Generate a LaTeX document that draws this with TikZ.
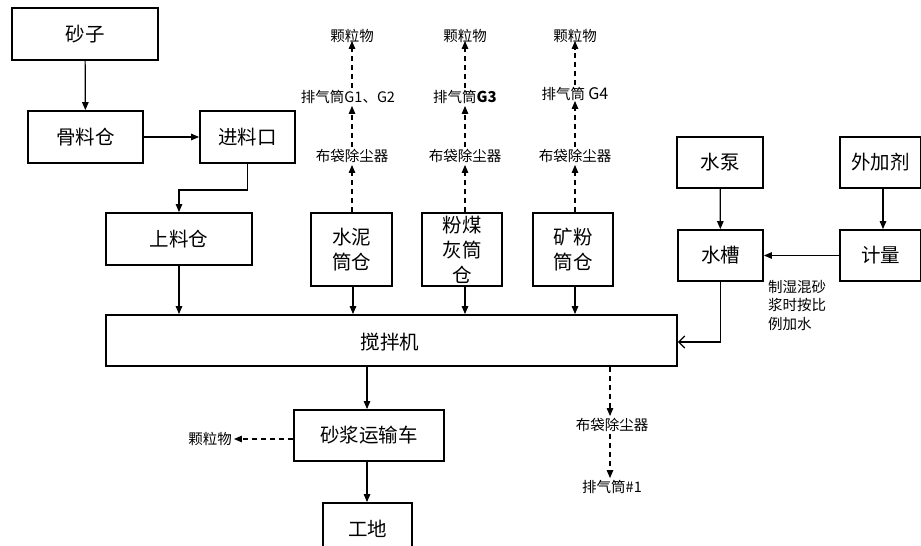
\documentclass[tikz,border=0pt]{standalone}
\usepackage{fontspec}
\setmainfont{Liberation Serif}
\newfontfamily\cjk{Noto Sans CJK SC}
\usetikzlibrary{arrows.meta,calc}
\begin{document}
\begin{tikzpicture}[x=1pt,y=-1pt,
  box/.style={draw,line width=1.8pt,rectangle,inner sep=0pt,font=\cjk\fontsize{19.5}{25}\selectfont,align=center},
  note/.style={inner sep=2pt,font=\cjk\fontsize{14.5}{18.5}\selectfont},
  arr/.style={line width=1.2pt,-{Triangle[length=8pt,width=6.5pt]}},
  darr/.style={line width=1.2pt,dash pattern=on 5pt off 4pt,-{Triangle[length=8pt,width=6.5pt]}},
  oarr/.style={line width=1.2pt,-{Straight Barb[length=6pt,width=12pt,line width=1.2pt]}}]
\useasboundingbox (0,0) rectangle (921,546);
\clip (0,0) rectangle (921,546);
\fill[white] (0,0) rectangle (921,546);
% boxes
\node[box,minimum width=146pt,minimum height=52pt] (shazi) at (85,34) {砂子};
\node[box,minimum width=115pt,minimum height=52pt] (guliao) at (85.5,137) {骨料仓};
\node[box,minimum width=95pt,minimum height=52pt] (jinliao) at (247.5,137) {进料口};
\node[box,minimum width=146pt,minimum height=52pt] (shangliao) at (179,239) {上料仓};
\node[box,minimum width=81pt,minimum height=73pt] (shuini) at (351.5,249.5) {水泥\\筒仓};
\node[box,minimum width=80pt,minimum height=73pt] (fenmei) at (462,249.5) {粉煤\\灰筒\\仓};
\node[box,minimum width=80pt,minimum height=73pt] (kuangfen) at (573,249.5) {矿粉\\筒仓};
\node[box,minimum width=571pt,minimum height=51pt] (jiaoban) at (391.5,340.5) {};
\node[font=\cjk\fontsize{19.5}{25}\selectfont] (jbtext) at (390,342) {搅拌机};
\node[box,minimum width=86pt,minimum height=51pt] (shuibeng) at (720,162.5) {水泵};
\node[box,minimum width=81pt,minimum height=51pt] (waijia) at (880.5,162.5) {外加剂};
\node[box,minimum width=85pt,minimum height=51pt] (shuicao) at (720.5,255.5) {水槽};
\node[box,minimum width=81pt,minimum height=51pt] (jiliang) at (880.5,255.5) {计量};
\node[box,minimum width=150pt,minimum height=51pt] (shajiang) at (369,435.5) {砂浆运输车};
\node[box,minimum width=89pt,minimum height=51pt] (gongdi) at (367.5,528.5) {工地};
% notes
\node[note] (bd1) at (352,156) {布袋除尘器};
\node[note] (pq1) at (348,97) {排气筒G1、G2};
\node[note] (kl1) at (352,36) {颗粒物};
\node[note] (bd2) at (465,156) {布袋除尘器};
\node[note] (pq2) at (465,97) {排气筒\textbf{\fontsize{15}{15}\selectfont G3}};
\node[note] (kl2) at (465,36) {颗粒物};
\node[note] (bd3) at (575,156) {布袋除尘器};
\node[note] (pq3) at (575,94) {排气筒 {\fontsize{16}{16}\selectfont G4}};
\node[note] (kl3) at (575,36) {颗粒物};
\node[note] (bd4) at (612,425) {布袋除尘器};
\node[note] (pq4) at (612,487) {排气筒\#1};
\node[note] (kl4) at (210,439) {颗粒物};
\node[note,align=left,anchor=north west] (zs) at (766,278) {制湿混砂\\浆时按比\\例加水};
% solid connectors
\draw[arr] (shazi) -- (guliao);
\draw[arr] (guliao) -- (jinliao);
\draw[arr] (jinliao.south) -- ++(0,26) -| (shangliao.north);
\draw[arr] (shangliao.south) -- (shangliao.south |- jiaoban.north);
\draw[arr] ([xshift=1.5pt]shuini.south) -- ([xshift=1.5pt]shuini.south |- jiaoban.north);
\draw[arr] ([xshift=3pt]fenmei.south) -- ([xshift=3pt]fenmei.south |- jiaoban.north);
\draw[arr] ([xshift=2pt]kuangfen.south) -- ([xshift=2pt]kuangfen.south |- jiaoban.north);
\draw[arr] (shuibeng) -- (shuicao);
\draw[arr] ([xshift=2.5pt]waijia.south) -- ([xshift=2.5pt]jiliang.north);
\draw[arr] (jiliang) -- (shuicao);
\draw[oarr] (shuicao.south) |- ([yshift=-1.5pt]jiaoban.east);
\draw[arr] (jiaoban.south -| 367,0) -- (shajiang.north -| 367,0);
\draw[arr] (shajiang.south -| 367,0) -- (gongdi.north -| 367,0);
% dashed connectors
\draw[darr] (shuini.north -| bd1) -- (bd1);
\draw[darr] (bd1) -- (bd1 |- pq1.south);
\draw[darr] (bd1 |- pq1.north) -- ([yshift=4pt]kl1.south);
\draw[darr] (fenmei.north -| bd2) -- (bd2);
\draw[darr] (bd2) -- (pq2);
\draw[darr] (pq2) -- ([yshift=4pt]kl2.south);
\draw[darr] (kuangfen.north -| bd3) -- (bd3);
\draw[darr] (bd3) -- ([yshift=2pt]pq3.south);
\draw[darr] (pq3) -- ([yshift=4pt]kl3.south);
\draw[darr] (jiaoban.south -| 610,0) -- (bd4.north -| 610,0);
\draw[darr] (bd4.south -| 610,0) -- (pq4.north -| 610,0);
\draw[darr] (shajiang.west |- kl4) -- (kl4);
\end{tikzpicture}
\end{document}
